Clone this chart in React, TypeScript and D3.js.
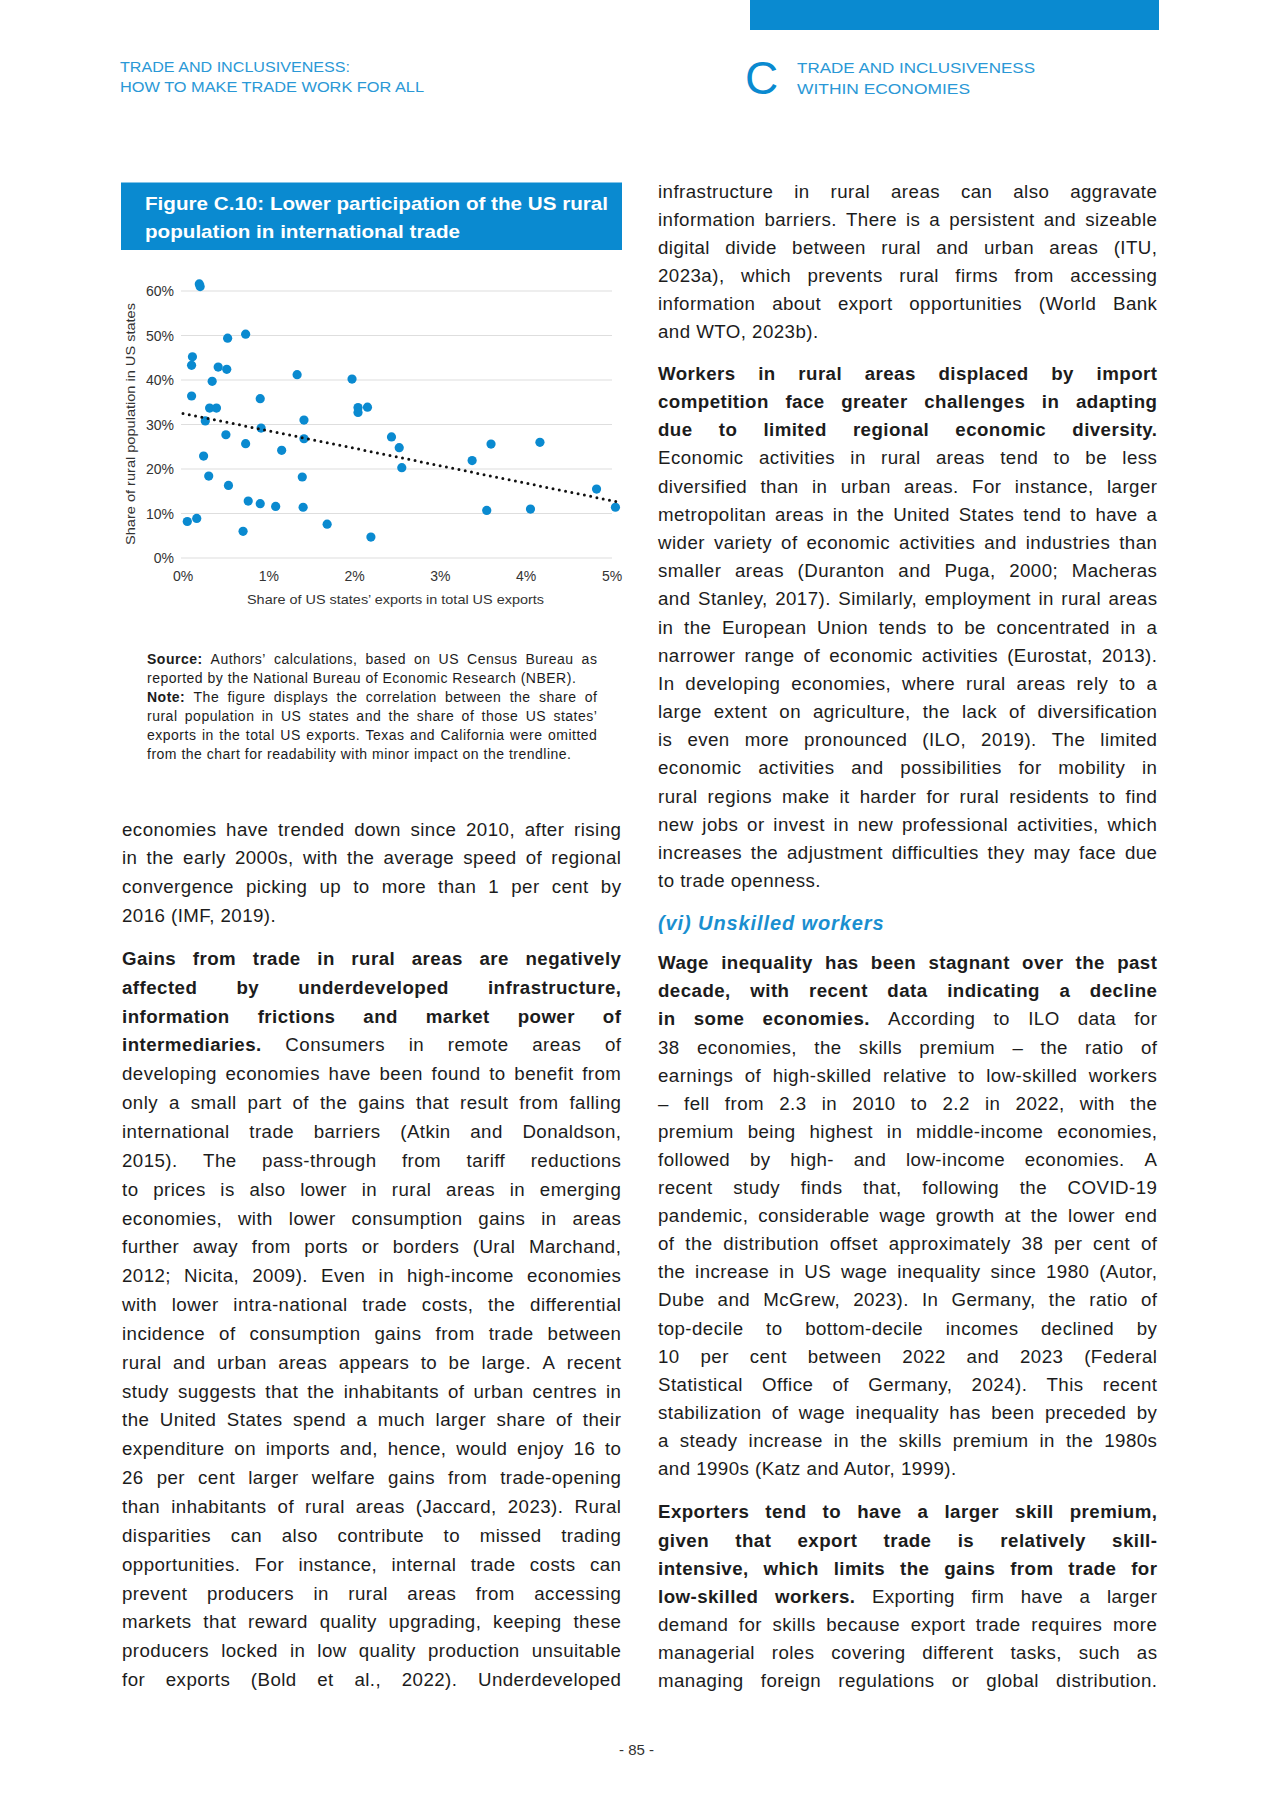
import React from "react";
import * as d3 from "d3";

// ---------- chart data ----------
const exportShare = [
  0.19, 0.2, 0.11, 0.1, 0.1, 0.05, 0.16, 0.24, 0.26, 0.31, 0.39, 0.34, 0.41, 0.51, 0.52, 0.5,
  0.3, 0.53, 0.73, 0.73, 0.76, 0.7, 0.9, 0.91, 0.9, 1.08, 1.15, 1.33, 1.41, 1.41, 1.39, 1.4,
  1.68, 1.97, 2.04, 2.04, 2.15, 2.19, 2.43, 2.52, 2.55, 3.37, 3.59, 3.54, 4.05, 4.16, 4.82, 5.04,
];
const ruralShare = [
  61.6, 61.0, 45.2, 43.3, 36.4, 8.2, 8.9, 22.9, 30.8, 33.7, 33.7, 39.7, 42.9, 42.4, 49.4, 27.7,
  18.4, 16.3, 50.3, 25.7, 12.8, 6.0, 35.8, 29.2, 12.2, 11.6, 24.2, 41.2, 31.0, 26.8, 18.2, 11.4,
  7.6, 40.2, 33.8, 32.7, 33.9, 4.7, 27.2, 24.8, 20.3, 21.9, 25.6, 10.7, 11.0, 26.0, 15.5, 11.4,
];
const trendX = [0, 5.07];
const trendY = [32.5, 12.6];
const xTicks = [0, 1, 2, 3, 4, 5];
const yTicks = [0, 10, 20, 30, 40, 50, 60];
const xTitle = "Share of US states’ exports in total US exports";
const yTitle = "Share of rural population in US states";
const figTitle = ["Figure C.10: Lower participation of the US rural", "population in international trade"];

// ---------- page text ----------
const sourceLines = [
  "**Source:** Authors’ calculations, based on US Census Bureau as",
  "reported by the National Bureau of Economic Research (NBER).",
  "**Note:** The figure displays the correlation between the share of",
  "rural population in US states and the share of those US states’",
  "exports in the total US exports. Texas and California were omitted",
  "from the chart for readability with minor impact on the trendline.",
];
const sourceJustify = [true, false, true, true, true, false];

const leftP1 = [
  "economies have trended down since 2010, after rising",
  "in the early 2000s, with the average speed of regional",
  "convergence picking up to more than 1 per cent by",
  "2016 (IMF, 2019).",
];
const leftP2 = [
  "**Gains from trade in rural areas are negatively**",
  "**affected by underdeveloped infrastructure,**",
  "**information frictions and market power of**",
  "**intermediaries.** Consumers in remote areas of",
  "developing economies have been found to benefit from",
  "only a small part of the gains that result from falling",
  "international trade barriers (Atkin and Donaldson,",
  "2015). The pass-through from tariff reductions",
  "to prices is also lower in rural areas in emerging",
  "economies, with lower consumption gains in areas",
  "further away from ports or borders (Ural Marchand,",
  "2012; Nicita, 2009). Even in high-income economies",
  "with lower intra-national trade costs, the differential",
  "incidence of consumption gains from trade between",
  "rural and urban areas appears to be large. A recent",
  "study suggests that the inhabitants of urban centres in",
  "the United States spend a much larger share of their",
  "expenditure on imports and, hence, would enjoy 16 to",
  "26 per cent larger welfare gains from trade-opening",
  "than inhabitants of rural areas (Jaccard, 2023). Rural",
  "disparities can also contribute to missed trading",
  "opportunities. For instance, internal trade costs can",
  "prevent producers in rural areas from accessing",
  "markets that reward quality upgrading, keeping these",
  "producers locked in low quality production unsuitable",
  "for exports (Bold et al., 2022). Underdeveloped",
];
const rightP1 = [
  "infrastructure in rural areas can also aggravate",
  "information barriers. There is a persistent and sizeable",
  "digital divide between rural and urban areas (ITU,",
  "2023a), which prevents rural firms from accessing",
  "information about export opportunities (World Bank",
  "and WTO, 2023b).",
];
const rightP2 = [
  "**Workers in rural areas displaced by import**",
  "**competition face greater challenges in adapting**",
  "**due to limited regional economic diversity.**",
  "Economic activities in rural areas tend to be less",
  "diversified than in urban areas. For instance, larger",
  "metropolitan areas in the United States tend to have a",
  "wider variety of economic activities and industries than",
  "smaller areas (Duranton and Puga, 2000; Macheras",
  "and Stanley, 2017). Similarly, employment in rural areas",
  "in the European Union tends to be concentrated in a",
  "narrower range of economic activities (Eurostat, 2013).",
  "In developing economies, where rural areas rely to a",
  "large extent on agriculture, the lack of diversification",
  "is even more pronounced (ILO, 2019). The limited",
  "economic activities and possibilities for mobility in",
  "rural regions make it harder for rural residents to find",
  "new jobs or invest in new professional activities, which",
  "increases the adjustment difficulties they may face due",
  "to trade openness.",
];
const rightP3 = [
  "**Wage inequality has been stagnant over the past**",
  "**decade, with recent data indicating a decline**",
  "**in some economies.** According to ILO data for",
  "38 economies, the skills premium – the ratio of",
  "earnings of high-skilled relative to low-skilled workers",
  "– fell from 2.3 in 2010 to 2.2 in 2022, with the",
  "premium being highest in middle-income economies,",
  "followed by high- and low-income economies. A",
  "recent study finds that, following the COVID-19",
  "pandemic, considerable wage growth at the lower end",
  "of the distribution offset approximately 38 per cent of",
  "the increase in US wage inequality since 1980 (Autor,",
  "Dube and McGrew, 2023). In Germany, the ratio of",
  "top-decile to bottom-decile incomes declined by",
  "10 per cent between 2022 and 2023 (Federal",
  "Statistical Office of Germany, 2024). This recent",
  "stabilization of wage inequality has been preceded by",
  "a steady increase in the skills premium in the 1980s",
  "and 1990s (Katz and Autor, 1999).",
];
const rightP4 = [
  "**Exporters tend to have a larger skill premium,**",
  "**given that export trade is relatively skill-**",
  "**intensive, which limits the gains from trade for**",
  "**low-skilled workers.** Exporting firm have a larger",
  "demand for skills because export trade requires more",
  "managerial roles covering different tasks, such as",
  "managing foreign regulations or global distribution.",
];

const BLUE = "#0a8ad0";
const HEAD_BLUE = "#2a98d6";
const TEXT = "#1c1c1c";
const FONT = "'Liberation Sans', Arial, Helvetica, sans-serif";
const BODY_SIZE = 18.7;
const BODY_LS = 0.45;

type Word = { t: string; b: boolean };
function parse(line: string): Word[] {
  const words: Word[] = [];
  line.split("**").forEach((p, i) => {
    p.split(" ")
      .filter((w) => w.length)
      .forEach((w) => words.push({ t: w, b: i % 2 === 1 }));
  });
  return words;
}

function Line(props: {
  text: string;
  x: number;
  cy: number;
  w: number;
  lh: number;
  size: number;
  justify: boolean;
  ls?: number;
}) {
  const { text, x, cy, w, lh, size, justify, ls = 0 } = props;
  const words = parse(text);
  const base: React.CSSProperties = {
    position: "absolute",
    left: x,
    top: cy - lh / 2,
    width: w,
    height: lh,
    lineHeight: `${lh}px`,
    fontSize: size,
    fontFamily: FONT,
    color: TEXT,
    letterSpacing: ls,
    whiteSpace: "nowrap",
  };
  if (justify) {
    return (
      <div style={{ ...base, display: "flex", justifyContent: "space-between" }}>
        {words.map((wd, i) => (
          <span
            key={i}
            style={{ fontWeight: wd.b ? 700 : 400, marginRight: i === words.length - 1 ? -ls : 0 }}
          >
            {wd.t}
          </span>
        ))}
      </div>
    );
  }
  return (
    <div style={base}>
      {words.map((wd, i) => (
        <span key={i} style={{ fontWeight: wd.b ? 700 : 400 }}>
          {wd.t}
          {i < words.length - 1 ? " " : ""}
        </span>
      ))}
    </div>
  );
}

function Para(props: {
  lines: string[];
  x: number;
  cy0: number;
  lh: number;
  w: number;
  size: number;
  lastJustify?: boolean;
  justifyFlags?: boolean[];
  ls?: number;
}) {
  const { lines, x, cy0, lh, w, size, lastJustify = false, justifyFlags, ls } = props;
  return (
    <>
      {lines.map((l, i) => (
        <Line
          key={i}
          text={l}
          x={x}
          cy={cy0 + i * lh}
          w={w}
          lh={lh}
          size={size}
          ls={ls}
          justify={justifyFlags ? justifyFlags[i] : i < lines.length - 1 || lastJustify}
        />
      ))}
    </>
  );
}

function Chart() {
  const x = d3.scaleLinear().domain([0, 5]).range([183, 612]);
  const y = d3.scaleLinear().domain([0, 60]).range([558, 291]);
  const trend = d3
    .line<number>()
    .x((d) => x(trendX[d]))
    .y((d) => y(trendY[d]))([0, 1]);
  return (
    <g fontFamily={FONT}>
      {yTicks.map((t) => (
        <g key={t}>
          <line x1={181} x2={612} y1={y(t)} y2={y(t)} stroke="#dedede" strokeWidth={1.2} />
          <text x={174} y={y(t) + 5} textAnchor="end" fontSize={14} fill="#333">
            {t}%
          </text>
        </g>
      ))}
      {xTicks.map((t) => (
        <text key={t} x={x(t)} y={581} textAnchor="middle" fontSize={14} fill="#333">
          {t}%
        </text>
      ))}
      <text
        x={395.5}
        y={604}
        textAnchor="middle"
        fontSize={13.5}
        fill="#333"
        textLength={297}
        lengthAdjust="spacingAndGlyphs"
      >
        {xTitle}
      </text>
      <text
        transform={`translate(135,424) rotate(-90)`}
        textAnchor="middle"
        fontSize={13.5}
        fill="#333"
        textLength={242}
        lengthAdjust="spacingAndGlyphs"
      >
        {yTitle}
      </text>
      {exportShare.map((v, i) => (
        <circle key={i} cx={x(v)} cy={y(ruralShare[i])} r={4.6} fill={BLUE} />
      ))}
      <path
        d={trend || ""}
        fill="none"
        stroke="#111"
        strokeWidth={3}
        strokeLinecap="round"
        strokeDasharray="0 6.4"
      />
    </g>
  );
}

export default function App() {
  return (
    <div
      style={{
        position: "absolute",
        left: 0,
        top: 0,
        width: 1280,
        height: 1809,
        background: "#fff",
        overflow: "hidden",
      }}
    >
      <svg
        width={1280}
        height={1809}
        style={{ position: "absolute", left: 0, top: 0 }}
        fontFamily={FONT}
      >
        {/* header */}
        <rect x={750} y={0} width={409} height={30} fill={BLUE} />
        <text x={120} y={71.5} fontSize={15} fill={HEAD_BLUE} textLength={230} lengthAdjust="spacingAndGlyphs">
          TRADE AND INCLUSIVENESS:
        </text>
        <text x={120} y={91.5} fontSize={15} fill={HEAD_BLUE} textLength={304} lengthAdjust="spacingAndGlyphs">
          HOW TO MAKE TRADE WORK FOR ALL
        </text>
        <text x={745} y={94} fontSize={46} fill={BLUE}>
          C
        </text>
        <text x={797} y={73} fontSize={15.5} fill={HEAD_BLUE} textLength={238} lengthAdjust="spacingAndGlyphs">
          TRADE AND INCLUSIVENESS
        </text>
        <text x={797} y={94} fontSize={15.5} fill={HEAD_BLUE} textLength={173} lengthAdjust="spacingAndGlyphs">
          WITHIN ECONOMIES
        </text>

        {/* figure title */}
        <rect x={121} y={182.5} width={501} height={67.5} fill={BLUE} />
        <text
          x={145}
          y={209.5}
          fontSize={18.5}
          fontWeight={700}
          fill="#fff"
          textLength={463}
          lengthAdjust="spacingAndGlyphs"
        >
          {figTitle[0]}
        </text>
        <text
          x={145}
          y={238}
          fontSize={18.5}
          fontWeight={700}
          fill="#fff"
          textLength={315}
          lengthAdjust="spacingAndGlyphs"
        >
          {figTitle[1]}
        </text>

        <Chart />

        {/* page number */}
        <text x={636.5} y={1754.5} fontSize={15} textAnchor="middle" fill="#333">
          - 85 -
        </text>
      </svg>

      {/* source note */}
      <Para
        lines={sourceLines}
        x={147}
        cy0={659.5}
        lh={19}
        w={450}
        size={14}
        ls={0.5}
        justifyFlags={sourceJustify}
      />

      {/* left column */}
      <Para lines={leftP1} x={122} cy0={830} lh={28.85} w={499} size={BODY_SIZE} ls={BODY_LS} />
      <Para lines={leftP2} x={122} cy0={959.3} lh={28.85} w={499} size={BODY_SIZE} ls={BODY_LS} lastJustify />

      {/* right column */}
      <Para lines={rightP1} x={658} cy0={191.7} lh={28.1} w={499} size={BODY_SIZE} ls={BODY_LS} />
      <Para lines={rightP2} x={658} cy0={374} lh={28.18} w={499} size={BODY_SIZE} ls={BODY_LS} />
      <div
        style={{
          position: "absolute",
          left: 658,
          top: 923.3 - 14,
          height: 28,
          lineHeight: "28px",
          fontFamily: FONT,
          fontSize: 20,
          fontWeight: 700,
          fontStyle: "italic",
          letterSpacing: 0.9,
          color: "#1a8fd0",
          whiteSpace: "nowrap",
        }}
      >
        (vi) Unskilled workers
      </div>
      <Para lines={rightP3} x={658} cy0={963.3} lh={28.1} w={499} size={BODY_SIZE} ls={BODY_LS} />
      <Para lines={rightP4} x={658} cy0={1512.5} lh={28.1} w={499} size={BODY_SIZE} ls={BODY_LS} lastJustify />
    </div>
  );
}
